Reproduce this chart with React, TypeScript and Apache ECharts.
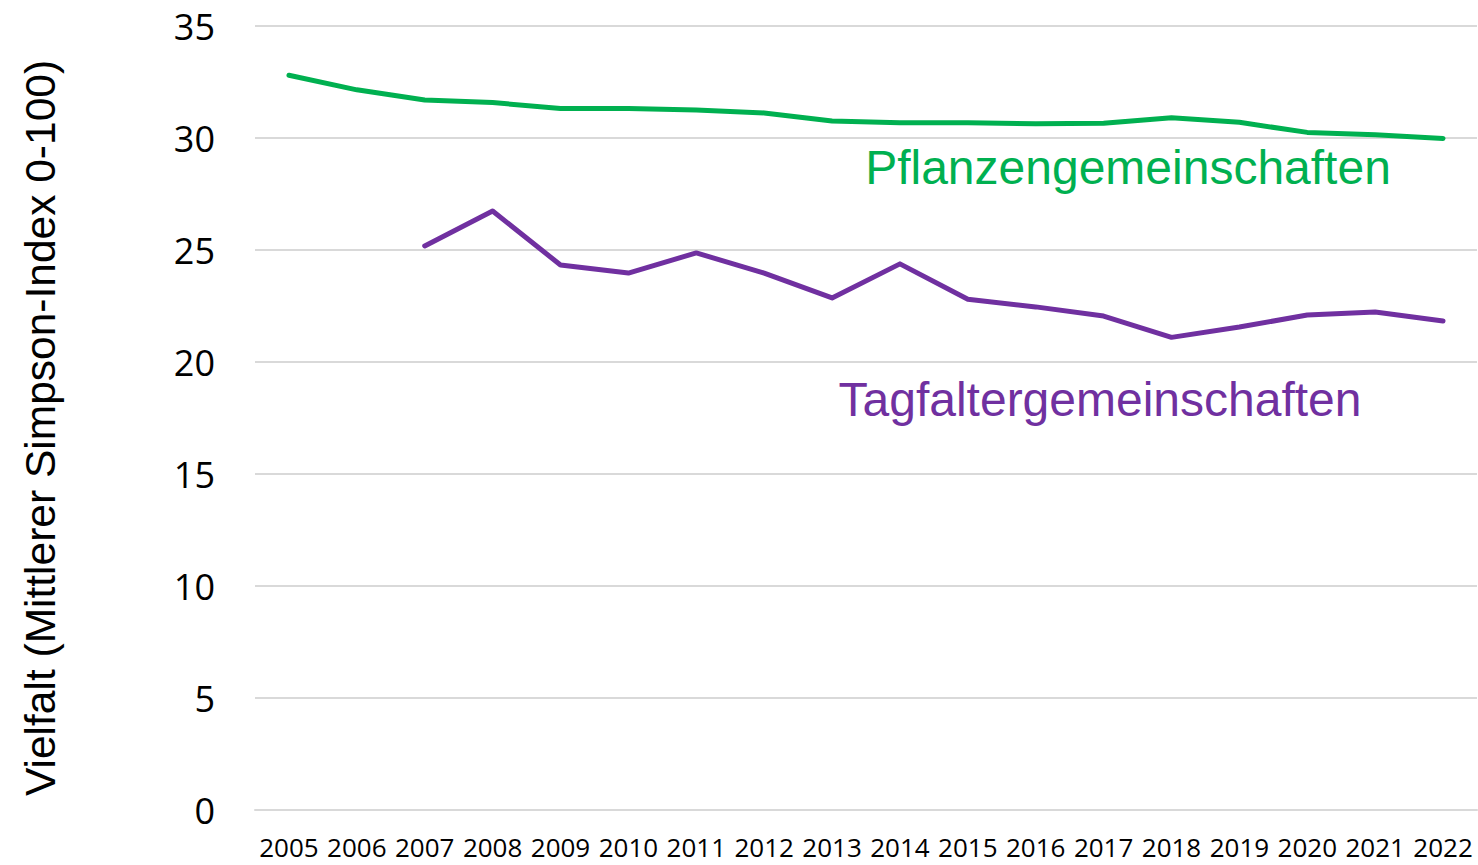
import React, { useEffect, useRef } from "react";
import * as echarts from "echarts";

const years = ["2005","2006","2007","2008","2009","2010","2011","2012","2013","2014","2015","2016","2017","2018","2019","2020","2021","2022"];
const pflanzen = [32.8, 32.15, 31.7, 31.58, 31.32, 31.32, 31.25, 31.12, 30.76, 30.68, 30.68, 30.64, 30.66, 30.9, 30.7, 30.25, 30.14, 29.98];
const tagfalter: (number | null)[] = [null, null, 25.18, 26.74, 24.33, 23.97, 24.87, 23.97, 22.86, 24.38, 22.8, 22.46, 22.05, 21.1, 21.56, 22.1, 22.23, 21.83];
const yTicks = [0, 5, 10, 15, 20, 25, 30, 35];
const seriesNames = ["Pflanzengemeinschaften", "Tagfaltergemeinschaften"];
const axisTitle = "Vielfalt (Mittlerer Simpson-Index 0-100)";

export default function App() {
  const ref = useRef<HTMLDivElement>(null);
  useEffect(() => {
    if (!ref.current) return;
    const chart = echarts.init(ref.current, null, { renderer: "svg" });
    chart.setOption({
      animation: false,
      grid: { left: 255, right: 1, top: 26, bottom: 55, containLabel: false },
      xAxis: {
        type: "category",
        data: years,
        boundaryGap: true,
        axisLine: { show: true, lineStyle: { color: "#d9d9d9", width: 2 } },
        axisTick: { show: false },
        axisLabel: { color: "#000", fontFamily: "Open Sans", fontSize: 26, margin: 24, interval: 0 },
      },
      yAxis: {
        type: "value",
        min: yTicks[0],
        max: yTicks[yTicks.length - 1],
        interval: 5,
        axisLine: { show: false },
        axisTick: { show: false },
        splitLine: { lineStyle: { color: "#d9d9d9", width: 2 } },
        axisLabel: { color: "#000", fontFamily: "Open Sans", fontSize: 36, margin: 40 },
      },
      graphic: [
        {
          type: "text",
          x: 40,
          y: 428,
          rotation: Math.PI / 2,
          style: {
            text: axisTitle,
            fontFamily: "Liberation Sans",
            fontSize: 42.5,
            fill: "#000",
            align: "center",
            verticalAlign: "middle",
          },
        },
        {
          type: "text",
          x: 1128,
          y: 167,
          style: {
            text: seriesNames[0],
            fontFamily: "Liberation Sans",
            fontSize: 48,
            fill: "#00b050",
            align: "center",
            verticalAlign: "middle",
          },
        },
        {
          type: "text",
          x: 1100,
          y: 399,
          style: {
            text: seriesNames[1],
            fontFamily: "Liberation Sans",
            fontSize: 48,
            fill: "#7030a0",
            align: "center",
            verticalAlign: "middle",
          },
        },
      ],
      series: [
        {
          name: seriesNames[0],
          type: "line",
          data: pflanzen,
          showSymbol: false,
          symbol: "none",
          lineStyle: { color: "#00b050", width: 5, cap: "round", join: "round" },
        },
        {
          name: seriesNames[1],
          type: "line",
          data: tagfalter,
          showSymbol: false,
          symbol: "none",
          lineStyle: { color: "#7030a0", width: 5, cap: "round", join: "round" },
        },
      ],
    });
    return () => chart.dispose();
  }, []);
  return <div ref={ref} style={{ width: 1478, height: 865, position: "absolute", left: 0, top: 0 }} />;
}
